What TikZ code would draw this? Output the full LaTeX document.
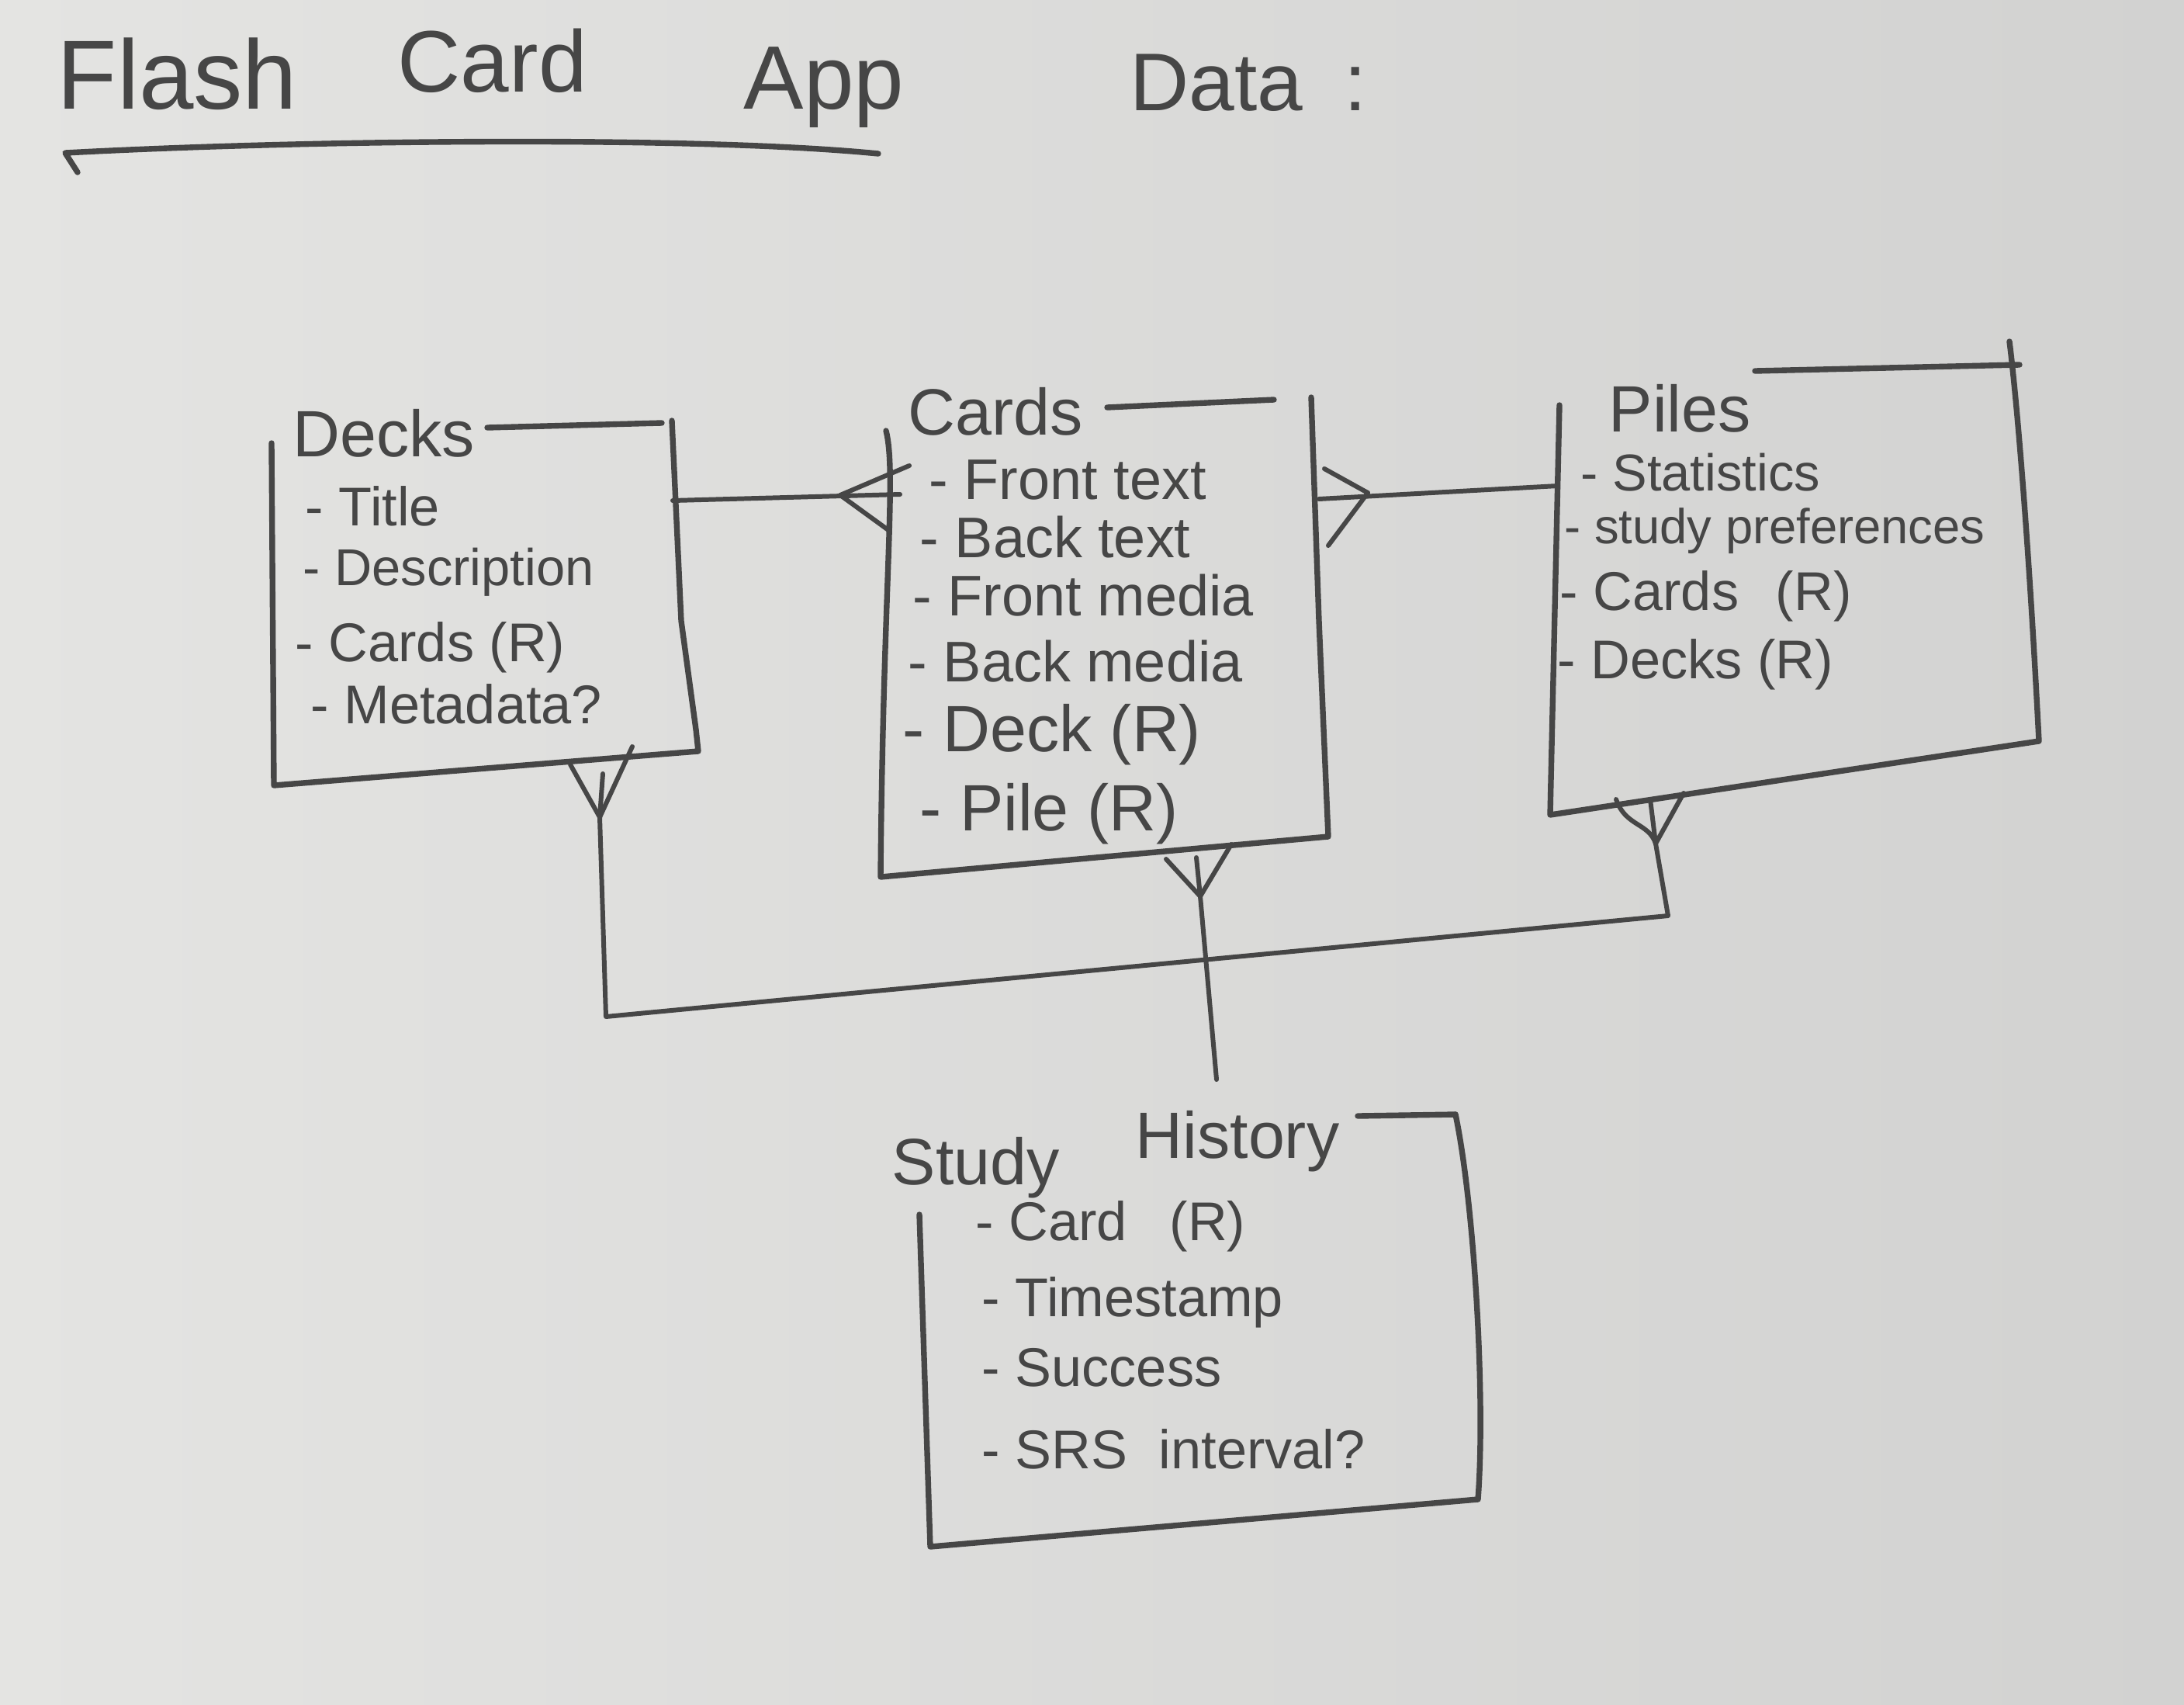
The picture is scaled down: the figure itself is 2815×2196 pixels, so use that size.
\documentclass[tikz,border=0pt]{standalone}
\usepackage{fontspec}
\setmainfont{Liberation Sans}
\definecolor{paperL}{RGB}{228,228,226}
\definecolor{paperD}{RGB}{210,210,209}
\definecolor{pencil}{RGB}{70,70,70}
\tikzset{
  box/.style={draw=pencil, line width=2.1pt, line cap=round, line join=round},
  conn/.style={draw=pencil, line width=1.7pt, line cap=round, line join=round},
  lbl/.style={text=pencil, inner sep=0pt, anchor=base west, font=\fontsize{20}{24}\selectfont},
  lblc/.style={lbl, font=\fontsize{21}{25}\selectfont},
  hdr/.style={lbl, font=\fontsize{24}{28}\selectfont},
  ttl/.style={lbl, font=\fontsize{36}{42}\selectfont},
}
\begin{document}
\begin{tikzpicture}[x=0.01cm,y=-0.01cm]
\useasboundingbox (0,0) rectangle (2815,2196);
\shade[left color=paperL, right color=paperD] (0,0) rectangle (2815,2196);

% ---------- title ----------
\node[ttl] (tFlash) at (73,140) {Flash};
\node[ttl, font=\fontsize{32}{38}\selectfont] (tCard) at (512,118) {Card};
\node[ttl, font=\fontsize{33}{38}\selectfont] (tApp) at (958,140) {App};
\node[ttl, font=\fontsize{30}{36}\selectfont] (tData) at (1456,142) {Data\hspace{0.5em}:};
\draw[box] (100,222) -- (84,197) .. controls (400,180) and (900,175) .. (1132,198);

% ---------- Decks ----------
\node[hdr] (dH) at (377,588) {Decks};
\node[lbl] (d1) at (393,677) {- Title};
\node[lbl, font=\fontsize{19}{23}\selectfont] (d2) at (390,754) {- Description};
\node[lbl] (d3) at (380,852) {- Cards (R)};
\node[lbl] (d4) at (400,932) {- Metadata?};
\coordinate (dTL) at (350,571);
\coordinate (dBL) at (353,1012);
\coordinate (dBR) at (900,968);
\coordinate (dTR) at (866,542);
\draw[box] (dTL) -- (dBL) -- (dBR) -- (897,940) -- (878,800) -- (dTR);
\draw[box] (628,551) -- (853,545);

% ---------- Cards ----------
\node[hdr] (cH) at (1170,560) {Cards};
\node[lblc] (c1) at (1197,643) {- Front text};
\node[lblc] (c2) at (1185,718) {- Back text};
\node[lblc] (c3) at (1176,793) {- Front media};
\node[lblc] (c4) at (1170,878) {- Back media};
\node[lblc, font=\fontsize{24}{28}\selectfont] (c5) at (1163,968) {- Deck (R)};
\node[lblc, font=\fontsize{24}{28}\selectfont] (c6) at (1185,1070) {- Pile (R)};
\coordinate (cTL) at (1142,555);
\coordinate (cBL) at (1135,1130);
\coordinate (cBR) at (1712,1078);
\coordinate (cTR) at (1690,512);
\draw[box] (cTL) .. controls (1156,610) and (1138,760) .. (cBL) -- (cBR) -- (1700,800) -- (cTR);
\draw[box] (1427,525) -- (1642,515);

% ---------- Piles ----------
\node[hdr] (pH) at (2073,556) {Piles};
\node[lbl, font=\fontsize{19}{23}\selectfont] (p1) at (2037,632) {- Statistics};
\node[lbl, font=\fontsize{18}{22}\selectfont] (p2) at (2016,700) {- study preferences};
\node[lbl] (p3) at (2010,786) {- Cards\hspace{0.4em} (R)};
\node[lbl] (p4) at (2007,874) {- Decks (R)};
\coordinate (pTL) at (2010,522);
\coordinate (pBL) at (1998,1050);
\coordinate (pBR) at (2628,955);
\coordinate (pTR) at (2590,440);
\draw[box] (pTL) -- (pBL) -- (pBR) .. controls (2615,700) and (2600,520) .. (pTR);
\draw[box] (2262,478) -- (2603,470);

% ---------- Study History ----------
\node[hdr] (sH1) at (1149,1526) {Study};
\node[hdr] (sH2) at (1463,1492) {History};
\node[lbl] (s1) at (1257,1598) {- Card\hspace{0.5em} (R)};
\node[lbl] (s2) at (1265,1696) {- Timestamp};
\node[lbl] (s3) at (1265,1786) {- Success};
\node[lbl] (s4) at (1265,1892) {- SRS\hspace{0.3em} interval?};
\coordinate (sTL) at (1185,1565);
\coordinate (sBL) at (1199,1993);
\coordinate (sBR) at (1905,1932);
\coordinate (sTR) at (1876,1436);
\draw[box] (sTL) -- (sBL) -- (sBR) .. controls (1915,1800) and (1900,1550) .. (sTR);
\draw[box] (1750,1438) -- (sTR);

% ---------- Decks -- Cards (crow's foot at Cards) ----------
\coordinate (dcA) at (867,645);
\coordinate (dcB) at (1160,637);
\coordinate (dcF) at (1083,638);
\draw[conn] (dcA) -- (dcB);
\draw[conn] (dcF) -- (1172,600);
\draw[conn] (dcF) -- (1145,683);

% ---------- Cards -- Piles (crow's foot at Cards) ----------
\coordinate (cpA) at (1700,643);
\coordinate (cpB) at (2008,626);
\coordinate (cpF) at (1763,635);
\draw[conn] (cpA) -- (cpB);
\draw[conn] (cpF) -- (1707,604);
\draw[conn] (cpF) -- (1712,703);

% ---------- Decks / Piles -- shared line ----------
\coordinate (dF) at (773,1053);
\draw[conn] (dF) -- (735,985);
\draw[conn] (dF) -- (815,962);
\draw[conn] (dF) -- (777,997);
\coordinate (jL) at (781,1310);
\coordinate (jR) at (2150,1180);
\coordinate (pF) at (2134,1087);
\draw[conn] (dF) -- (jL) -- (jR) -- (pF);
\draw[conn] (pF) .. controls (2125,1060) and (2095,1065) .. (2083,1030);
\draw[conn] (pF) -- (2170,1022);
\draw[conn] (pF) -- (2127,1030);

% ---------- Cards -- Study History ----------
\coordinate (cF) at (1547,1155);
\coordinate (sTop) at (1568,1391);
\draw[conn] (cF) -- (1503,1107);
\draw[conn] (cF) -- (1587,1088);
\draw[conn] (cF) -- (1542,1105);
\draw[conn] (cF) -- (sTop);
\end{tikzpicture}
\end{document}
